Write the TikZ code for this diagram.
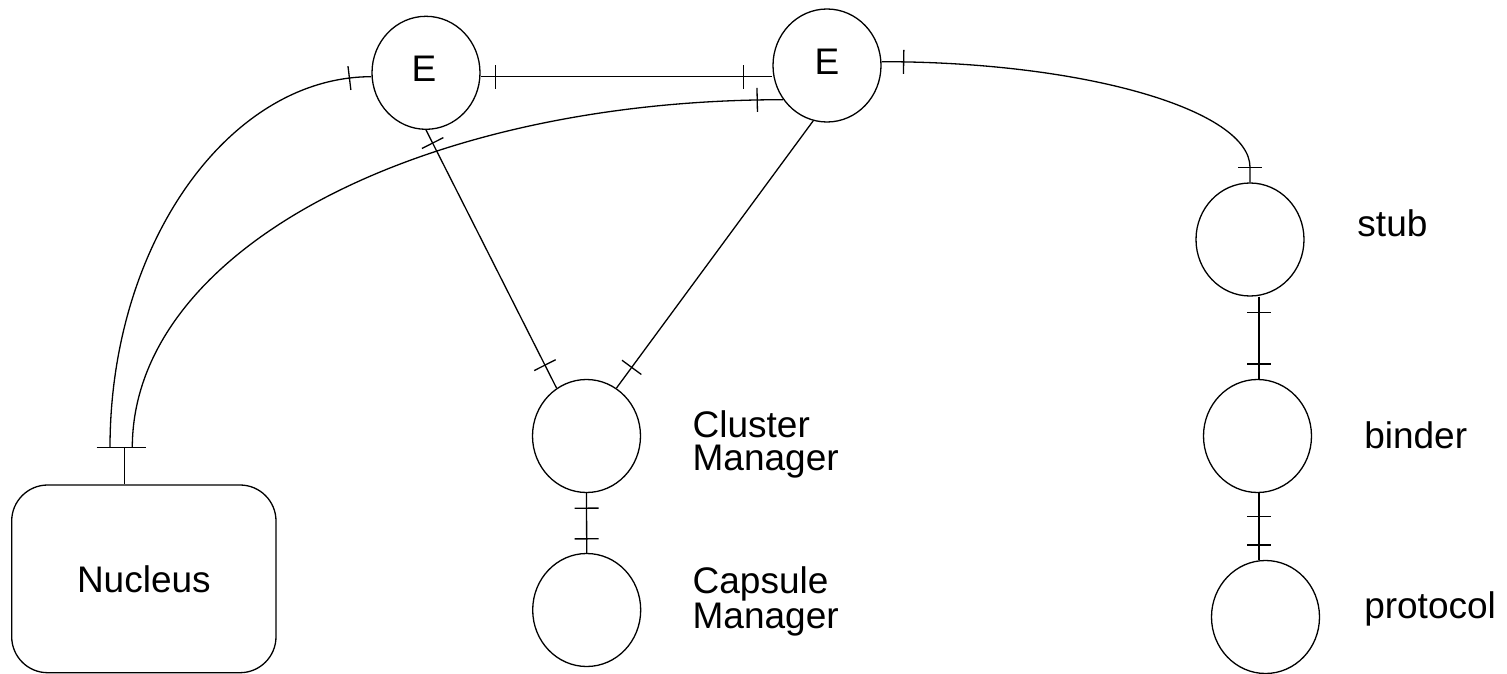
\documentclass[tikz,border=0pt]{standalone}
\usepackage{fontspec}
\setmainfont{Liberation Sans}
\usetikzlibrary{shapes.geometric,decorations.markings,calc}
\begin{document}
\begin{tikzpicture}[x=1pt,y=-1pt,line width=1.3pt,
  circ/.style={ellipse,draw,minimum width=108pt,minimum height=113pt,inner sep=0pt},
  lbl/.style={anchor=base west,inner sep=0pt,align=left,font=\fontsize{37pt}{32.3pt}\selectfont},
  etxt/.style={inner sep=0pt,font=\fontsize{37pt}{32pt}\selectfont},
  tk/.style={postaction={decorate,decoration={markings,mark=at position #1 with {\draw[line width=1.3pt] (0pt,-12pt) -- (0pt,12pt);}}}}]
\useasboundingbox (0,0) rectangle (1507,674);

% nodes
\node[circ] (e1) at (426,72.8) {};
\node[circ] (e2) at (827,65.5) {};
\node[etxt] (e1t) at ([xshift=-2pt,yshift=4pt]e1.center) {E};
\node[etxt] (e2t) at ([xshift=0pt,yshift=4pt]e2.center) {E};
\node[circ] (cm) at (586.5,436) {};
\node[circ] (cap) at (586.7,610) {};
\node[circ] (stub) at (1250,239.5) {};
\node[circ] (binder) at (1257.5,436) {};
\node[circ] (proto) at (1265.5,617) {};
\node[draw,rounded corners=36pt,minimum width=264.3pt,minimum height=187.7pt,inner sep=0pt,
      font=\fontsize{37pt}{32pt}\selectfont] (nuc) at (143.85,578.85) {Nucleus};

% labels (base anchor = baseline of last line)
\node[lbl] (lstub) at (1356.8,236) {stub};
\node[lbl] (lbinder) at (1363.6,448) {binder};
\node[lbl] (lproto) at (1363.6,618) {protocol};
\node[lbl] (lcm) at (692,470) {Cluster\\Manager};
\node[lbl] (lcap) at (692,628) {Capsule\\Manager};

% nucleus connection
\coordinate (nbar) at (124.3,447.7);
\draw (nuc.north -| nbar) -- (nbar);
\draw ([xshift=-27.6pt]nbar) -- ([xshift=21.4pt]nbar);
\draw[tk=-22pt] ([xshift=-14.3pt]nbar) .. controls +(0,-204.8) and +(-141.7,0) .. ([yshift=-3.9pt]e1.west);
\draw[tk=-26pt] ([xshift=8pt]nbar) .. controls +(0,-197.7) and +(-363.7,0) .. (e2.218);

% E links
\draw[tk=15pt,tk=-29pt] ([yshift=-3.9pt]e1.east) -- ([yshift=-3.9pt]e1.east -| e2.west);
\draw[tk=22pt,tk=-15pt] ([yshift=3.8pt]e2.east) .. controls +(204,0) and +(0,-57) .. ([yshift=15pt]stub.north) -- (stub.north);
\draw[tk=14.7pt,tk=-25.8pt] (e1.south) -- (cm.122);
\draw[tk=-25.8pt] (e2.256) -- (cm.58);

% vertical chains
\draw[tk=15pt,tk=-14pt] (cm.south) -- (cap.north);
\draw[tk=16pt,tk=-15pt] ([xshift=9pt]stub.south) -- ([xshift=9pt]stub.south |- binder.north);
\draw[tk=23pt,tk=-15pt] ([xshift=1.5pt]binder.south) -- ([xshift=1.5pt]binder.south |- proto.north);
\end{tikzpicture}
\end{document}
